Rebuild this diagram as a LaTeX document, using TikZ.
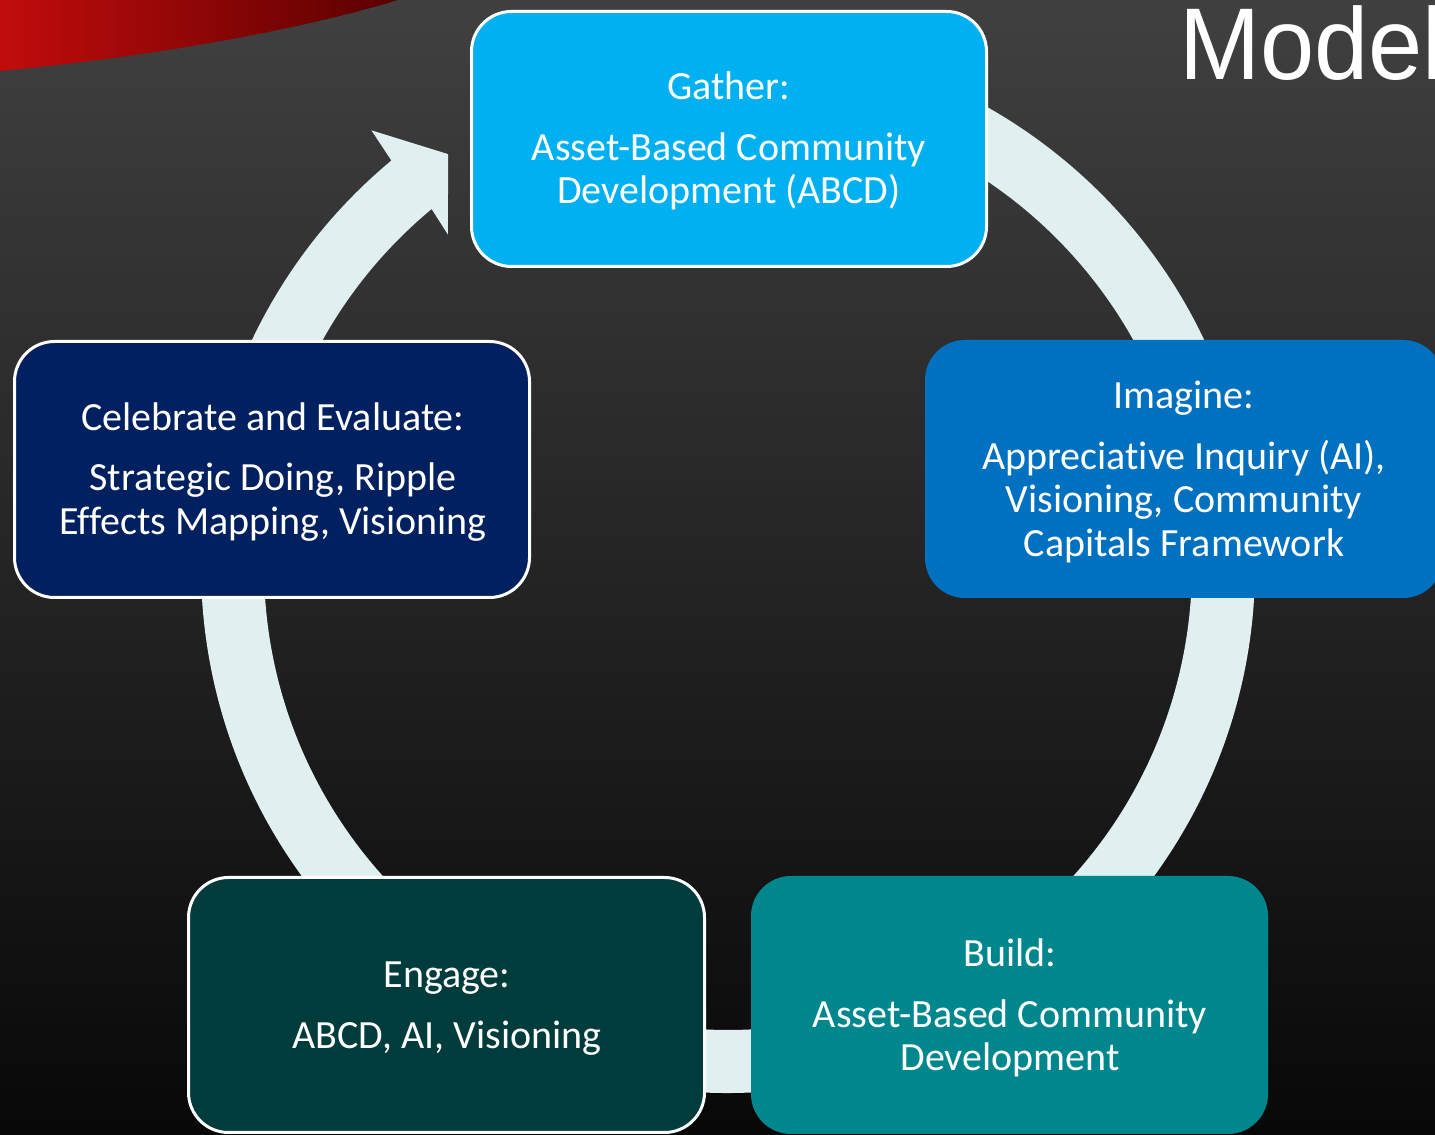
\documentclass[tikz,border=0pt]{standalone}
\usepackage{fontspec}
\setmainfont[Ligatures={NoCommon}]{Carlito}
\newfontfamily\modelfont[FakeStretch=0.955]{Liberation Sans}
\usetikzlibrary{calc}
\definecolor{bgtop}{HTML}{404040}
\definecolor{bgbot}{HTML}{080808}
\definecolor{redA}{HTML}{C20C0C}
\definecolor{redB}{HTML}{5A0000}
\definecolor{ringc}{HTML}{E0EFEF}
\definecolor{gatherc}{HTML}{00B0F0}
\definecolor{imaginec}{HTML}{0070C0}
\definecolor{celebc}{HTML}{002060}
\definecolor{engagec}{HTML}{003C3C}
\definecolor{buildc}{HTML}{00878D}
\tikzset{
  box/.style={rectangle, rounded corners=40pt, inner sep=0pt},
  outl/.style={draw=white, line width=3pt},
  lbl/.style={text=white, align=center, inner sep=0pt, font=\fontsize{40}{43.5}\selectfont}
}
\begin{document}
\begin{tikzpicture}[x=1pt,y=1pt]
\useasboundingbox (0,0) rectangle (1435,1135);
\begin{scope}
\clip (0,0) rectangle (1435,1135);
\shade[top color=bgtop,bottom color=bgbot] (0,0) rectangle (1435,1135);
\shade[left color=redA,right color=redB] (0,1135) -- (398,1135) .. controls (300,1105) and (150,1078) .. (0,1064) -- cycle;
\node[anchor=base west, inner sep=0pt, text=white, font=\modelfont\fontsize{102}{102}\selectfont] (title) at (1179,1055) {Model};
% ring with arrow head
\coordinate (C) at (728,569);
\fill[ringc] ($(C)+(95:527)$) arc[start angle=95,end angle=-230.3,radius=527]
  -- ($(C)+(129.3:563)$) coordinate (hbout)
  -- ($(C)+(124.2:498)$) coordinate (htip)
  -- ($(C)+(130.2:434)$) coordinate (hbin)
  -- ($(C)+(129.7:464)$) arc[start angle=-230.3,end angle=95,radius=464] -- cycle;
% boxes
\node[box, outl, fill=gatherc, minimum width=515pt, minimum height=255pt] (gather) at (729,996) {};
\node[box, fill=imaginec, minimum width=518pt, minimum height=258pt] (imagine) at (1184,666) {};
\node[box, outl, fill=celebc, minimum width=515pt, minimum height=256pt] (celebrate) at (272,665.5) {};
\node[box, outl, fill=engagec, minimum width=516pt, minimum height=255pt] (engage) at (446.5,130) {};
\node[box, fill=buildc, minimum width=517pt, minimum height=258pt] (build) at (1009.5,130) {};
% labels
\node[lbl] (gathertxt) at (729,994) {Gather:\\[17pt]Asset-Based Community\\Development (ABCD)};
\node[lbl] (imaginetxt) at (1184,663) {Imagine:\\[17pt]Appreciative Inquiry (AI),\\Visioning, Community\\Capitals Framework};
\node[lbl] (celebtxt) at (273,663) {Celebrate and Evaluate:\\[17pt]Strategic Doing, Ripple\\Effects Mapping, Visioning};
\node[lbl] (engagetxt) at (447,126.5) {Engage:\\[17pt]ABCD, AI, Visioning};
\node[lbl] (buildtxt) at (1010,127) {Build:\\[17pt]Asset-Based Community\\Development};
\end{scope}
\end{tikzpicture}
\end{document}
